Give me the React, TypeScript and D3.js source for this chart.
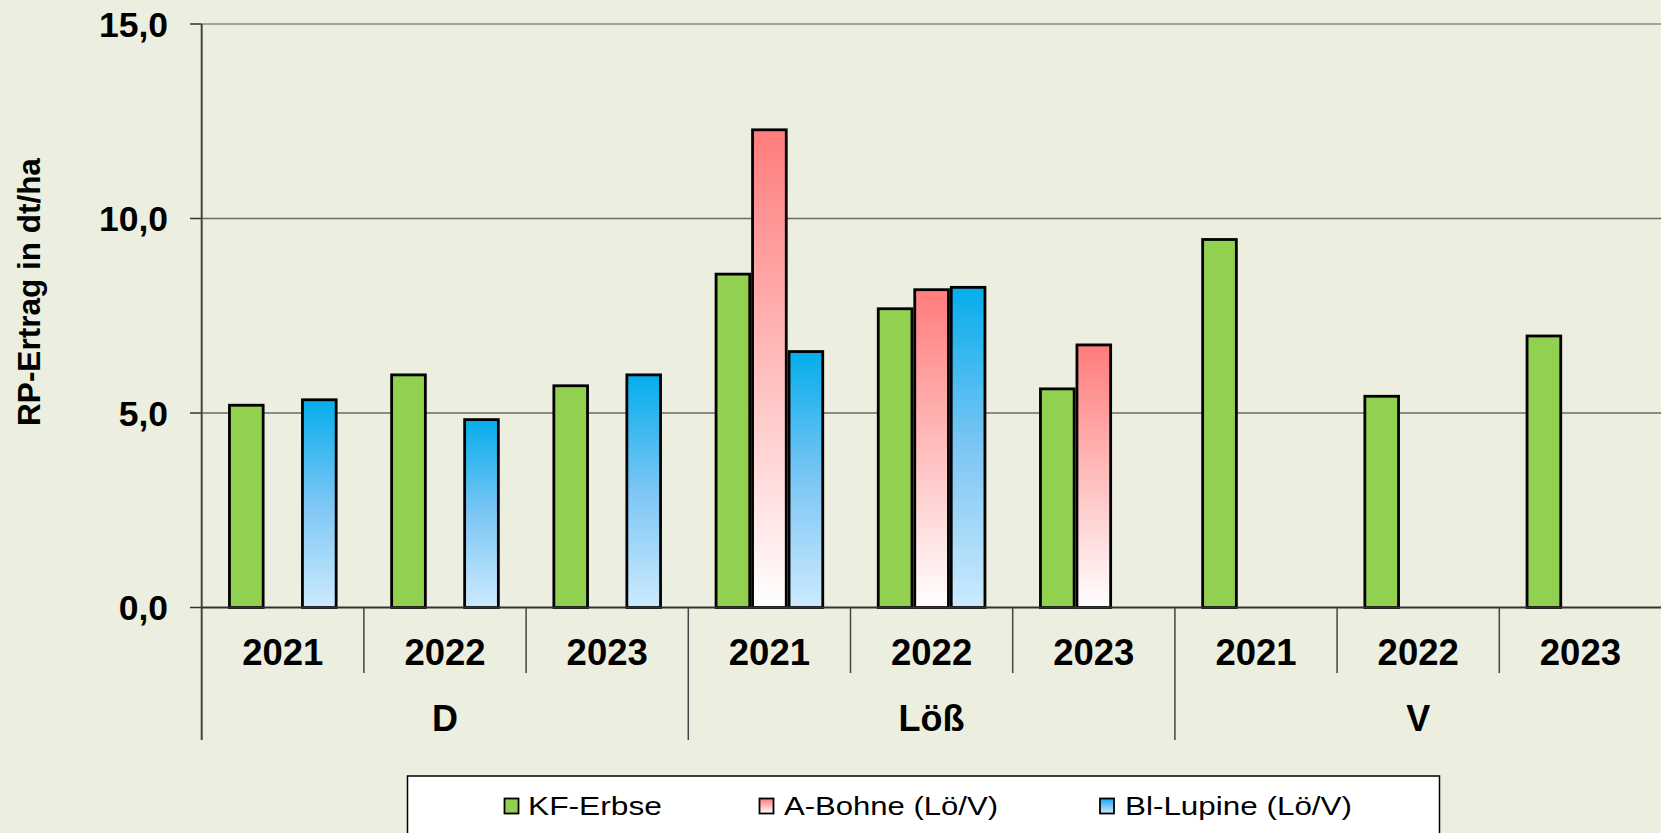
import React from "react";
import * as d3 from "d3";

const groups = ["D", "Löß", "V"];
const years = ["2021", "2022", "2023"];
const seriesNames = ["KF-Erbse", "A-Bohne (Lö/V)", "Bl-Lupine (Lö/V)"];
// values per category (group x year), null = no bar
const kfErbse = [5.2, 5.98, 5.7, 8.57, 7.68, 5.62, 9.46, 5.43, 6.98];
const aBohne = [null, null, null, 12.28, 8.17, 6.75, null, null, null];
const blLupine = [5.34, 4.83, 5.98, 6.58, 8.23, null, null, null, null];
const yTicks = [0, 5, 10, 15];

const W = 1661;
const H = 833;
const X0 = 201.7;
const X1 = 1661.5;
const Y0 = 607.5;
const Y15 = 24;
const FONT = "'Liberation Sans', Arial, Helvetica, sans-serif";

export default function App() {
  const categories = groups.flatMap((g) => years.map((y) => `${g}|${y}`));
  const x = d3.scaleBand<string>().domain(categories).range([X0, X1]).padding(0);
  const xg = d3.scaleBand<string>().domain(groups).range([X0, X1]).padding(0);
  const y = d3.scaleLinear().domain([0, 15]).range([Y0, Y15]);
  const bw = 36.5;
  const inner = d3
    .scaleBand<string>()
    .domain(seriesNames)
    .range([-bw * 1.5, bw * 1.5])
    .padding(0);
  const seriesData = [kfErbse, aBohne, blLupine];
  const fills = ["#92D050", "url(#gradRed)", "url(#gradBlue)"];
  const fmt = (v: number) => v.toFixed(1).replace(".", ",");
  const sw = 2.8;

  const legendItems = [
    { name: seriesNames[0], mx: 504.5, tx: 528, tl: 134, fill: fills[0] },
    { name: seriesNames[1], mx: 759.5, tx: 784, tl: 214, fill: fills[1] },
    { name: seriesNames[2], mx: 1100, tx: 1125, tl: 227, fill: fills[2] },
  ];

  return (
    <svg
      width={W}
      height={H}
      style={{ position: "fixed", left: 0, top: 0, display: "block" }}
      fontFamily={FONT}
    >
      <defs>
        <linearGradient id="gradRed" x1="0" y1="0" x2="0" y2="1">
          <stop offset="0" stopColor="#FF7C7C" />
          <stop offset="1" stopColor="#FFFFFF" />
        </linearGradient>
        <linearGradient id="gradBlue" x1="0" y1="0" x2="0" y2="1">
          <stop offset="0" stopColor="#05ADEC" />
          <stop offset="0.5" stopColor="#7CC6F4" />
          <stop offset="1" stopColor="#CCEAFE" />
        </linearGradient>
      </defs>
      <rect x={0} y={0} width={W} height={H} fill="#ECEFDF" />

      {/* gridlines */}
      {yTicks.map((t) =>
        t === 0 ? null : (
          <line
            key={"g" + t}
            x1={X0}
            x2={W}
            y1={y(t)}
            y2={y(t)}
            stroke={t === 15 ? "#8a8a8a" : "#6a6a6a"}
            strokeWidth={1.6}
          />
        )
      )}

      {/* y ticks and labels */}
      {yTicks.map((t) => (
        <g key={"t" + t}>
          <line x1={190} x2={X0} y1={y(t)} y2={y(t)} stroke="#333" strokeWidth={1.5} />
          <text
            x={168}
            y={y(t) + 12.5}
            textAnchor="end"
            fontSize={35.5}
            fontWeight="bold"
            fill="#000"
          >
            {fmt(t)}
          </text>
        </g>
      ))}

      {/* bars */}
      {seriesData.map((arr, si) =>
        arr.map((v, ci) =>
          v == null ? null : (
            <rect
              key={`b${si}-${ci}`}
              x={(x(categories[ci]) as number) + x.bandwidth() / 2 + (inner(seriesNames[si]) as number) + sw / 2}
              y={y(v)}
              width={inner.bandwidth() - sw}
              height={Y0 - y(v)}
              fill={fills[si]}
              stroke="#000"
              strokeWidth={sw}
            />
          )
        )
      )}

      {/* axes */}
      <line x1={X0} x2={X0} y1={y(15)} y2={740} stroke="#444" strokeWidth={2} />
      <line x1={X0} x2={W} y1={Y0} y2={Y0} stroke="#333" strokeWidth={1.8} />

      {/* year separators */}
      {categories.map((c, i) =>
        i === 0 || i % 3 === 0 ? null : (
          <line
            key={"ys" + i}
            x1={x(c) as number}
            x2={x(c) as number}
            y1={Y0}
            y2={673}
            stroke="#444"
            strokeWidth={1.5}
          />
        )
      )}
      {/* group separators */}
      {groups.map((g, i) =>
        i === 0 ? null : (
          <line
            key={"gs" + i}
            x1={xg(g) as number}
            x2={xg(g) as number}
            y1={Y0}
            y2={740}
            stroke="#444"
            strokeWidth={1.5}
          />
        )
      )}

      {/* year labels */}
      {categories.map((c) => (
        <text
          key={"yl" + c}
          x={(x(c) as number) + x.bandwidth() / 2}
          y={664.5}
          textAnchor="middle"
          fontSize={36.5}
          fontWeight="bold"
          fill="#000"
        >
          {c.split("|")[1]}
        </text>
      ))}
      {/* group labels */}
      {groups.map((g) => (
        <text
          key={"gl" + g}
          x={(xg(g) as number) + xg.bandwidth() / 2}
          y={731}
          textAnchor="middle"
          fontSize={36}
          fontWeight="bold"
          fill="#000"
        >
          {g}
        </text>
      ))}

      {/* y axis title */}
      <text
        transform="translate(39.5,292) rotate(-90)"
        textAnchor="middle"
        fontSize={31.5}
        fontWeight="bold"
        fill="#000"
      >
        RP-Ertrag in dt/ha
      </text>

      {/* legend */}
      <rect x={407.5} y={776} width={1032} height={80} fill="#FFFFFF" stroke="#000" strokeWidth={1.5} />
      {legendItems.map((it) => (
        <g key={"l" + it.name}>
          <rect x={it.mx} y={798.5} width={14} height={15} fill={it.fill} stroke="#000" strokeWidth={1.8} />
          <text
            x={it.tx}
            y={814.5}
            fontSize={26}
            textLength={it.tl}
            lengthAdjust="spacingAndGlyphs"
            fill="#000"
          >
            {it.name}
          </text>
        </g>
      ))}
    </svg>
  );
}
